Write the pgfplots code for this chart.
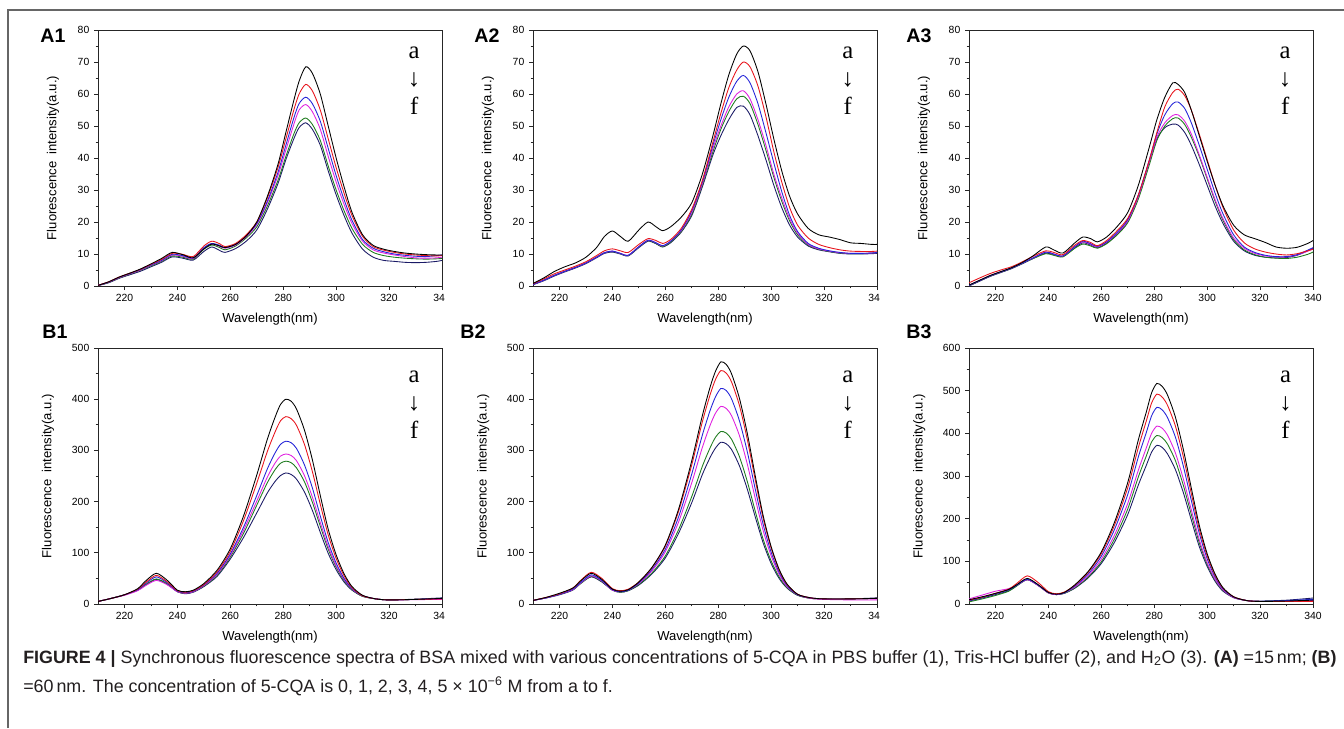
\documentclass[border=0pt]{standalone}
\usepackage{fontspec}
\setmainfont{Liberation Sans}
\newfontfamily\seriffont{Liberation Serif}
\usepackage{pgfplots}
\pgfplotsset{compat=1.18}
\usepackage{pgfplotstable}

\definecolor{cA}{HTML}{000000}
\definecolor{cB}{HTML}{E8141C}
\definecolor{cC}{HTML}{2424D8}
\definecolor{cD}{HTML}{E020E0}
\definecolor{cE}{HTML}{1E7B1E}
\definecolor{cF}{HTML}{1A1A66}
\definecolor{capcol}{HTML}{231F20}

% ---------------- data: x, curves a..f ----------------
\pgfplotstableread{
x a b c d e f
210 0.2 0.2 0.2 0.2 0.2 0.1
214 1.3 1.3 1.2 1.2 1.1 1.0
218 2.8 2.8 2.7 2.6 2.5 2.4
222 4.0 4.0 3.9 3.8 3.7 3.5
226 5.3 5.2 5.1 5.0 4.9 4.6
230 6.9 6.8 6.6 6.5 6.3 6.0
234 8.6 8.3 8.0 7.9 7.7 7.4
238 10.5 10.2 9.9 9.7 9.4 9.1
242 9.8 9.9 9.5 9.3 9.0 8.7
246 8.8 9.2 8.8 8.6 8.4 8.1
250 11.6 12.5 12.0 11.8 11.5 10.8
253 13.1 14.0 13.3 13.1 12.8 12.2
256 12.5 13.2 12.7 12.4 12.0 11.1
258 12.0 12.3 12.0 11.8 11.3 10.5
262 13.0 13.3 13.0 12.8 12.5 11.7
266 15.6 16.0 15.7 15.4 15.0 14.0
270 20.0 20.0 19.5 19.2 18.5 17.5
274 28.0 27.5 26.5 26.0 25.0 24.0
278 38.0 37.0 35.5 34.5 33.0 32.0
281 48.0 46.0 44.0 42.5 40.5 39.5
284 58.0 55.0 52.5 50.5 47.5 46.0
286 64.0 60.0 57.0 55.0 51.0 49.5
288.5 68.5 63.0 59.0 56.7 52.5 51.0
291 66.5 61.0 57.0 54.5 50.5 49.0
294 60.0 55.0 51.5 49.0 45.5 44.0
297 50.0 46.0 43.0 40.5 37.5 36.0
300 40.0 37.0 34.5 32.5 30.0 28.5
303 31.0 29.0 27.0 25.5 23.5 22.0
306 23.0 22.0 20.5 19.5 18.0 16.5
310 16.0 15.5 14.5 14.0 13.0 11.5
314 12.7 12.3 11.8 11.3 10.5 9.0
318 11.5 11.2 10.7 10.3 9.5 8.0
322 10.8 10.5 10.0 9.7 9.0 7.7
326 10.3 10.0 9.6 9.2 8.7 7.4
330 10.0 9.7 9.3 8.8 8.5 7.3
334 9.8 9.5 9.2 8.7 8.4 7.4
338 9.7 9.4 9.5 8.8 8.5 7.7
340 9.7 9.5 9.7 9.0 8.6 8.0
}\tAone

\pgfplotstableread{
x a b c d e f
210 0.8 0.7 0.5 0.5 0.5 0.4
214 2.5 2.2 1.8 1.8 1.8 1.6
218 4.5 3.8 3.3 3.3 3.3 3.1
222 6.0 5.0 4.6 4.6 4.6 4.4
226 7.2 6.2 5.8 5.8 5.8 5.6
230 9.0 7.6 7.2 7.2 7.2 7.0
234 12.0 9.5 9.0 9.0 9.0 8.8
237 15.5 11.0 10.4 10.4 10.4 10.2
240 17.2 11.6 10.9 10.9 10.8 10.6
243 15.5 11.0 10.2 10.2 10.1 10.0
246 14.0 10.5 9.6 9.6 9.5 9.4
250 17.5 13.0 12.3 12.3 12.2 12.0
253.5 20.0 14.8 14.3 14.3 14.2 14.0
256.5 18.5 14.2 13.5 13.5 13.3 13.2
259 17.3 13.3 12.6 12.5 12.3 12.2
262 18.5 14.5 14.0 14.0 13.7 13.5
266 21.5 18.0 17.5 17.3 17.0 16.8
270 26.0 24.0 23.5 23.0 22.5 22.0
274 35.0 33.0 32.5 32.0 31.5 31.0
278 47.0 45.0 44.0 43.0 42.0 41.0
281 57.0 54.0 52.0 50.0 49.0 47.0
284 66.0 62.0 59.0 56.0 54.5 52.0
287 72.5 67.5 64.0 60.0 58.5 55.8
289.5 75.0 70.0 65.8 61.0 59.3 56.2
292 73.5 68.5 63.5 58.5 57.0 53.5
295 67.0 62.5 57.0 52.0 50.5 47.0
298 57.0 53.0 48.0 44.0 42.5 39.5
301 46.0 42.0 38.5 35.0 34.0 31.5
304 36.0 32.5 29.5 27.5 26.5 24.5
307 28.0 24.5 22.0 21.0 20.3 19.0
310 22.5 19.0 17.0 16.5 16.0 15.3
314 18.0 15.0 13.3 13.0 12.8 12.5
318 16.0 13.0 11.8 11.6 11.5 11.3
322 15.3 12.0 11.0 10.9 10.8 10.7
326 14.5 11.3 10.5 10.4 10.3 10.2
330 13.5 10.9 10.2 10.2 10.1 10.0
334 13.3 10.8 10.2 10.2 10.1 10.0
338 13.0 10.8 10.3 10.3 10.3 10.1
340 13.0 10.9 10.5 10.4 10.4 10.2
}\tAtwo

\pgfplotstableread{
x a b c d e f
210 0.3 1.0 0.2 0.2 0.1 0.0
214 1.8 2.5 1.7 1.7 1.6 1.5
218 3.3 3.9 3.2 3.2 3.1 3.0
222 4.5 5.0 4.4 4.4 4.3 4.2
226 5.7 6.0 5.6 5.6 5.5 5.4
230 7.3 7.5 7.1 7.1 7.0 6.9
234 9.3 9.2 8.7 8.7 8.5 8.5
239 12.2 11.0 10.6 10.6 10.1 10.3
242 11.3 10.5 10.0 10.0 9.6 9.8
245.5 10.3 9.8 9.4 9.4 9.1 9.3
250 13.5 12.8 12.3 12.3 11.8 12.0
253 15.3 14.2 14.0 13.8 13.1 13.5
256 14.8 13.6 13.2 13.0 12.5 12.8
258.5 13.8 12.6 12.4 12.2 11.8 12.0
262 15.3 14.2 13.8 13.7 13.2 13.4
266 18.6 17.3 16.8 16.5 16.0 16.2
270 23.0 21.2 20.8 20.4 19.8 20.2
274 31.5 28.5 28.5 28.0 27.2 28.0
278 43.0 39.0 39.0 38.5 37.5 38.5
281 52.0 48.0 47.5 46.5 45.5 46.0
284 59.0 56.0 53.5 51.0 50.0 49.5
287 63.5 60.5 57.0 53.3 52.3 50.6
289 63.0 61.5 57.5 53.5 52.5 50.3
291.5 60.5 59.5 55.5 51.5 50.5 48.0
294 55.0 55.0 51.0 47.5 46.5 44.0
297 47.0 47.5 44.0 41.0 40.5 38.0
300 39.0 39.5 36.5 34.0 33.5 31.5
303 31.5 31.5 29.0 27.0 26.5 25.0
306 25.0 24.5 22.5 21.0 20.5 19.5
310 19.0 17.5 16.0 15.0 14.5 14.0
314 16.0 13.5 12.2 11.8 11.3 11.0
318 14.8 11.6 10.5 10.2 9.8 9.6
322 13.6 10.6 9.6 9.4 9.0 9.0
326 12.2 10.0 9.2 9.1 8.7 8.8
330 11.8 9.7 9.2 9.1 8.6 8.9
334 12.1 10.1 9.8 9.7 9.0 9.6
338 13.3 11.0 11.2 10.9 9.9 11.0
340 14.2 11.5 12.0 11.6 10.6 11.8
}\tAthree

\pgfplotstableread{
x a b c d e f
210 5 5 5 5 5 5
215 11 11 11 11 11 11
220 18 18 18 17 18 18
225 30 29 28 26 27 27
228 45 42 40 36 38 37
232 60 56 53 46 49 48
236 47 44 42 38 40 39
240 27 26 25 24 24 24
243 24 23 22 21 21 20
246 27 26 25 24 24 23
250 40 38 37 36 35 34
255 66 63 60 58 56 54
260 108 103 98 95 92 88
265 172 163 150 144 138 130
270 252 236 212 201 193 178
274 322 298 264 248 237 217
277 366 337 296 276 263 240
279 390 358 312 289 275 251
281 400 366 318 293 279 256
283 396 362 315 290 276 253
285 381 349 304 280 266 244
288 340 312 272 251 239 219
291 282 259 227 209 199 183
294 212 195 172 159 152 140
297 146 135 120 112 107 99
300 96 89 80 75 72 67
303 59 55 50 48 46 43
306 34 32 30 29 28 27
310 17 16 16 16 15 15
315 10 10 10 10 10 10
320 8 8 8 8 8 8
330 9 9 9 8.5 9 9.5
340 11 10 11 9 10 12
}\tBone

\pgfplotstableread{
x a b c d e f
210 7 7 7 7 7 7
215 13 13 12 12 12 12
220 21 20 19 19 19 18
225 31 31 29 28 28 27
228 45 46 42 41 40 40
232 60 62 57 55 54 53
236 48 50 46 45 44 43
240 29 30 28 27 27 27
243 25 26 24 24 23 23
246 28 29 27 27 26 26
250 43 43 41 40 38 37
255 72 71 68 65 61 59
260 115 113 107 102 94 90
265 185 181 170 160 145 138
270 280 272 254 237 210 198
274 368 356 330 306 269 253
277 425 410 379 350 306 287
279 455 439 405 373 326 305
281 473 456 421 386 337 316
283 468 451 417 382 334 313
285 450 434 401 368 322 302
288 402 388 358 329 288 270
291 333 321 297 273 239 224
294 250 242 224 206 181 170
297 172 167 155 143 126 119
300 112 109 101 94 84 79
303 68 66 62 58 53 50
306 39 38 36 34 32 31
310 19 19 18 18 17 17
315 12 12 12 11 11 11
320 10 10 10 9 10 10
330 10 10 10 8 10 10
340 11 11 11 8 11 12
}\tBtwo

\pgfplotstableread{
x a b c d e f
210 10 9 8 12 5 7
215 17 16 15 21 12 14
220 25 25 24 30 20 22
225 34 35 33 36 30 31
228 45 48 44 44 42 43
232 60 66 58 57 57 57
236 46 51 45 44 44 44
240 27 29 27 26 26 26
243 23 24 23 22 22 22
246 27 28 26 26 25 25
250 45 44 42 40 38 37
255 76 74 70 66 63 61
260 122 118 112 105 99 95
265 192 185 175 162 153 145
270 285 273 257 236 223 210
274 385 367 345 314 298 279
277 450 429 402 366 347 325
279 495 471 441 400 380 356
281 517 492 461 417 395 372
283 510 485 455 412 390 367
285 490 466 437 396 375 352
288 438 417 391 354 336 315
291 362 345 323 293 278 261
294 272 259 243 221 210 197
297 185 176 166 151 144 135
300 118 113 106 97 93 88
303 70 67 63 58 56 53
306 38 37 35 33 32 30
310 17 17 16 15 15 15
315 8 8 8 8 8 8
320 6 6 6 6 6 7
330 7 6 8 6 7 9
340 9 6 11 8 10 14
}\tBthree

\pgfplotsset{
  panel/.style={
    scale only axis, width=258pt, height=192pt,
    xmin=210, xmax=340,
    xtick={220,240,...,340},
    minor x tick num=1,
    minor y tick num=1,
    tick pos=left, tick align=outside,
    major tick length=3pt, minor tick length=1.8pt,
    every tick/.style={black!85, line width=0.6pt},
    axis line style={line width=0.75pt, black!85},
    tick label style={font=\fontsize{7.8}{9}\selectfont, /pgf/number format/assume math mode=true},
    label style={font=\fontsize{9.8}{11}\selectfont},
    xlabel={Wavelength(nm)},
    ylabel={Fluorescence\ \ intensity(a.u.)},
    xlabel style={at={(axis description cs:0.5,-0.129)}, anchor=center},
    every axis plot/.append style={line width=0.65pt, smooth, tension=0.45},
  },
  apanel/.style={panel, ymin=0, ymax=80, ytick={0,10,...,80},
    ylabel style={at={(axis description cs:-0.131,0.5)}, anchor=center}},
  bpanel/.style={panel, ymin=0, ymax=500, ytick={0,100,...,500},
    ylabel style={at={(axis description cs:-0.145,0.5)}, anchor=center}},
  cut/.style={xticklabels={220,240,260,280,300,320,34\phantom{0}}},
}

\newcommand\sixplots[1]{%
  \addplot[cF] table[x=x,y=f]{#1};
  \addplot[cE] table[x=x,y=e]{#1};
  \addplot[cD] table[x=x,y=d]{#1};
  \addplot[cC] table[x=x,y=c]{#1};
  \addplot[cB] table[x=x,y=b]{#1};
  \addplot[cA] table[x=x,y=a]{#1};
}
% a / arrow / f stacked in one node; #1 x, #2 y of the top edge (rel axis)
\newcommand\aftag[2]{%
  \node[inner sep=0pt, anchor=north, align=center,
        font=\seriffont\fontsize{18.5}{21}\selectfont]
        at (rel axis cs:#1,#2) {a\\↓\\f};
}

\begin{document}
\begin{tikzpicture}
\useasboundingbox (0,0) rectangle (1008pt,-546pt);
\fill[white] (0,0) rectangle (1008pt,-546pt);
\draw[line width=1.1pt, black!60] (6pt,-546pt) -- (6pt,-7.5pt) -- (1008pt,-7.5pt);

% top row
\begin{axis}[apanel, cut, at={(73.5pt,-214.5pt)}, anchor=south west]
\sixplots{\tAone}
\aftag{0.919}{0.935}
\end{axis}
\begin{axis}[apanel, cut, at={(399.75pt,-214.5pt)}, anchor=south west]
\sixplots{\tAtwo}
\aftag{0.915}{0.935}
\end{axis}
\begin{axis}[apanel, at={(726.75pt,-214.5pt)}, anchor=south west]
\sixplots{\tAthree}
\aftag{0.919}{0.935}
\end{axis}

% bottom row
\begin{axis}[bpanel, cut, at={(73.5pt,-453pt)}, anchor=south west]
\sixplots{\tBone}
\aftag{0.919}{0.912}
\end{axis}
\begin{axis}[bpanel, cut, at={(399.75pt,-453pt)}, anchor=south west]
\sixplots{\tBtwo}
\aftag{0.915}{0.912}
\end{axis}
\begin{axis}[bpanel, ymax=600, ytick={0,100,...,600}, at={(726.75pt,-453pt)}, anchor=south west]
\sixplots{\tBthree}
\aftag{0.92}{0.912}
\end{axis}

% panel letters
\begin{scope}[every node/.style={font=\bfseries\fontsize{14.7}{16}\selectfont, anchor=center}]
\node at (39.75pt,-27pt) {A1};
\node at (365.25pt,-27pt) {A2};
\node at (689.25pt,-27pt) {A3};
\node at (41.25pt,-249pt) {B1};
\node at (354.75pt,-249pt) {B2};
\node at (689.25pt,-249pt) {B3};
\end{scope}

% caption
\begin{scope}[every node/.style={font=\fontsize{13.4}{15}\selectfont, text=capcol, anchor=base west, inner sep=0pt}]
\node at (17.25pt,-497.25pt) {{\bfseries FIGURE 4 |} Synchronous fluorescence spectra of BSA mixed with various concentrations of 5-CQA in PBS buffer (1), Tris-HCl buffer (2), and H\textsubscript{2}O (3). {\bfseries (A)} =15\,nm; {\bfseries (B)}};
\node at (17.25pt,-519pt) {=60\,nm. The concentration of 5-CQA is 0, 1, 2, 3, 4, 5 × 10\textsuperscript{−6} M from a to f.};
\end{scope}
\end{tikzpicture}
\end{document}
